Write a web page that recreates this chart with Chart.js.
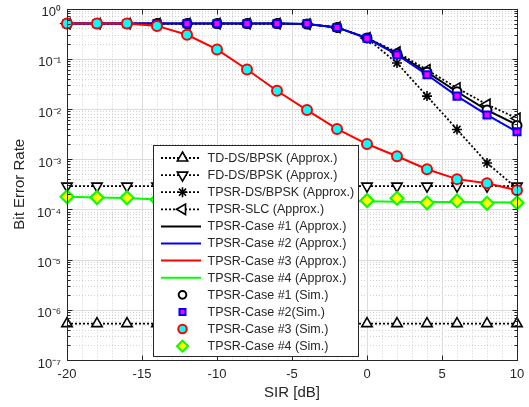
<!DOCTYPE html>
<html>
<head>
<meta charset="utf-8">
<script src="https://cdn.jsdelivr.net/npm/chart.js@4.4.1/dist/chart.umd.min.js"></script>
<style>
  html, body { margin: 0; padding: 0; background: #fff; }
  #berChart { display: block; }
</style>
</head>
<body>
<canvas id="berChart" width="529" height="407"></canvas>
<script>
// SIR values (dB)
const sirDb = [-20, -18, -16, -14, -12, -10, -8, -6, -4, -2, 0, 2, 4, 6, 8, 10];

// approximations
const tdDsApprox    = [5.3e-7, 5.3e-7, 5.3e-7, 5.3e-7, 5.3e-7, 5.3e-7, 5.3e-7, 5.3e-7, 5.3e-7, 5.3e-7, 5.3e-7, 5.3e-7, 5.3e-7, 5.3e-7, 5.3e-7, 5.3e-7];
const fdDsApprox    = [2.9e-4, 2.9e-4, 2.9e-4, 2.9e-4, 2.9e-4, 2.9e-4, 2.9e-4, 2.9e-4, 2.9e-4, 2.9e-4, 2.9e-4, 2.9e-4, 2.9e-4, 2.9e-4, 2.9e-4, 2.9e-4];
const tpsrDsApprox  = [0.5, 0.5, 0.5, 0.5, 0.5, 0.5, 0.5, 0.5, 0.49, 0.42, 0.255, 0.082, 0.018, 0.0039, 0.00084, 0.00026];
const tpsrSlcApprox = [0.5, 0.5, 0.5, 0.5, 0.5, 0.5, 0.5, 0.5, 0.49, 0.42, 0.26, 0.135, 0.06, 0.026, 0.0123, 0.0065];
const case1Approx   = [0.5, 0.5, 0.5, 0.5, 0.5, 0.5, 0.5, 0.5, 0.49, 0.42, 0.26, 0.125, 0.054, 0.022, 0.0095, 0.0048];
const case2Approx   = [0.5, 0.5, 0.5, 0.5, 0.5, 0.5, 0.5, 0.5, 0.49, 0.42, 0.255, 0.12, 0.048, 0.018, 0.0076, 0.0035];
const case3Approx   = [0.5, 0.5, 0.5, 0.45, 0.30, 0.153, 0.061, 0.023, 0.0095, 0.0040, 0.0020, 0.00114, 0.00063, 0.0004, 0.00033, 0.00024];
const case4Approx   = [1.78e-4, 1.72e-4, 1.68e-4, 1.58e-4, 1.54e-4, 1.52e-4, 1.5e-4, 1.48e-4, 1.46e-4, 1.45e-4, 1.45e-4, 1.42e-4, 1.4e-4, 1.4e-4, 1.38e-4, 1.37e-4];

// simulations
const case1Sim = [0.5, 0.5, 0.5, 0.5, 0.5, 0.5, 0.5, 0.5, 0.49, 0.42, 0.26, 0.125, 0.054, 0.022, 0.0095, 0.0047];
const case2Sim = [0.5, 0.5, 0.5, 0.5, 0.5, 0.5, 0.5, 0.5, 0.5, 0.42, 0.255, 0.12, 0.048, 0.018, 0.0076, 0.0035];
const case3Sim = [0.5, 0.5, 0.5, 0.45, 0.30, 0.153, 0.061, 0.023, 0.0095, 0.0040, 0.0020, 0.00114, 0.00063, 0.0004, 0.00033, 0.00024];
const case4Sim = [1.78e-4, 1.72e-4, 1.7e-4, 1.55e-4, 1.52e-4, 1.5e-4, 1.48e-4, 1.46e-4, 1.45e-4, 1.45e-4, 1.5e-4, 1.66e-4, 1.35e-4, 1.47e-4, 1.32e-4, 1.35e-4];

// axis ticks
const xMajorTicks = [-20, -15, -10, -5, 0, 5, 10];
const yDecades = [-7, -6, -5, -4, -3, -2, -1, 0];

const FONT = "'Liberation Sans', Arial, sans-serif";
const TEXT = '#262626';
const sup = { '-': '\u207B', '0': '\u2070', '1': '\u00B9', '2': '\u00B2', '3': '\u00B3', '4': '\u2074', '5': '\u2075', '6': '\u2076', '7': '\u2077', '8': '\u2078', '9': '\u2079' };

function pts(arr) {
  return sirDb.map((x, i) => ({ x: x, y: arr[i] }));
}

function isDecade(v) {
  const e = Math.log10(v);
  return Math.abs(e - Math.round(e)) < 1e-6;
}

const yTickValues = [];
yDecades.forEach(d => {
  for (let m = 1; m <= 9; m++) {
    if (d === 0 && m > 1) break;
    yTickValues.push(m * Math.pow(10, d));
  }
});

function dotted(label, data, style, rotation) {
  return {
    label: label, data: pts(data), kind: 'dotted',
    borderColor: '#000', borderWidth: 1.8, borderDash: [2, 2],
    pointStyle: style, pointRotation: rotation || 0, pointRadius: style === 'star' ? 5 : 6,
    pointBorderColor: '#000', pointBackgroundColor: '#fff', pointBorderWidth: 1.6,
    showLine: true, clip: false
  };
}
function solid(label, data, color) {
  return {
    label: label, data: pts(data), kind: 'solid',
    borderColor: color, borderWidth: 2, pointRadius: 0, showLine: true, clip: false
  };
}
function sim(label, data, style, edge, fill, radius) {
  return {
    label: label, data: pts(data), kind: 'sim',
    showLine: false, pointStyle: style, pointRadius: radius,
    pointBorderColor: edge, pointBackgroundColor: fill, pointBorderWidth: 2, clip: false
  };
}

const datasets = [
  dotted('TD-DS/BPSK (Approx.)', tdDsApprox, 'triangle', 0),
  dotted('FD-DS/BPSK (Approx.)', fdDsApprox, 'triangle', 180),
  dotted('TPSR-DS/BPSK (Approx.)', tpsrDsApprox, 'star', 0),
  dotted('TPSR-SLC (Approx.)', tpsrSlcApprox, 'triangle', -90),
  solid('TPSR-Case #1 (Approx.)', case1Approx, '#000000'),
  solid('TPSR-Case #2 (Approx.)', case2Approx, '#0000ff'),
  solid('TPSR-Case #3 (Approx.)', case3Approx, '#ff0000'),
  solid('TPSR-Case #4 (Approx.)', case4Approx, '#00ff00'),
  sim('TPSR-Case #1 (Sim.)', case1Sim, 'circle', '#000000', '#ffffff', 4.5),
  sim('TPSR-Case #2(Sim.)', case2Sim, 'rect', '#0000ff', '#ff00ff', 5),
  sim('TPSR-Case #3 (Sim.)', case3Sim, 'circle', '#ff0000', '#00ffff', 5),
  sim('TPSR-Case #4 (Sim.)', case4Sim, 'rectRot', '#00ff00', '#ffff00', 6.5)
];
datasets.forEach((d, i) => { d.order = datasets.length - i; });

// MATLAB-like grid behind data
const gridPlugin = {
  id: 'matlabGrid',
  beforeDatasetsDraw(chart) {
    const { ctx, chartArea: a, scales: { x, y } } = chart;
    ctx.save();
    ctx.lineWidth = 1;
    ctx.setLineDash([1, 2]);
    ctx.strokeStyle = '#d0d0d0';
    for (let v = x.min; v <= x.max; v++) {
      if (xMajorTicks.includes(v)) continue;
      const px = Math.round(x.getPixelForValue(v)) + 0.5;
      ctx.beginPath(); ctx.moveTo(px, a.top); ctx.lineTo(px, a.bottom); ctx.stroke();
    }
    yTickValues.forEach(v => {
      if (isDecade(v)) return;
      const py = Math.round(y.getPixelForValue(v)) + 0.5;
      ctx.beginPath(); ctx.moveTo(a.left, py); ctx.lineTo(a.right, py); ctx.stroke();
    });
    ctx.setLineDash([]);
    ctx.strokeStyle = '#dcdcdc';
    xMajorTicks.forEach(v => {
      const px = Math.round(x.getPixelForValue(v)) + 0.5;
      ctx.beginPath(); ctx.moveTo(px, a.top); ctx.lineTo(px, a.bottom); ctx.stroke();
    });
    yTickValues.forEach(v => {
      if (!isDecade(v)) return;
      const py = Math.round(y.getPixelForValue(v)) + 0.5;
      ctx.beginPath(); ctx.moveTo(a.left, py); ctx.lineTo(a.right, py); ctx.stroke();
    });
    ctx.restore();
  }
};

// box + inward ticks
const framePlugin = {
  id: 'matlabFrame',
  afterDatasetsDraw(chart) {
    const { ctx, chartArea: a, scales: { x, y } } = chart;
    const l = Math.round(a.left) + 0.5, r = Math.round(a.right) + 0.5;
    const t = Math.round(a.top) + 0.5, b = Math.round(a.bottom) + 0.5;
    ctx.save();
    ctx.strokeStyle = TEXT;
    ctx.lineWidth = 1;
    ctx.strokeRect(l, t, r - l, b - t);
    ctx.beginPath();
    yTickValues.forEach(v => {
      const py = Math.round(y.getPixelForValue(v)) + 0.5;
      const len = isDecade(v) ? 5 : 3;
      ctx.moveTo(l, py); ctx.lineTo(l + len, py);
      ctx.moveTo(r, py); ctx.lineTo(r - len, py);
    });
    xMajorTicks.forEach(v => {
      const px = Math.round(x.getPixelForValue(v)) + 0.5;
      ctx.moveTo(px, b); ctx.lineTo(px, b - 5);
      ctx.moveTo(px, t); ctx.lineTo(px, t + 5);
    });
    ctx.stroke();
    ctx.restore();
  }
};

// legend box inside the axes, like MATLAB
const legendPlugin = {
  id: 'boxLegend',
  afterDraw(chart) {
    const { ctx, chartArea: a } = chart;
    const bx = Math.round(a.left + 86) + 0.5, by = Math.round(a.top + 136) + 0.5;
    const bw = 205, bh = 211;
    ctx.save();
    ctx.fillStyle = '#fff';
    ctx.fillRect(bx, by, bw, bh);
    ctx.strokeStyle = TEXT;
    ctx.lineWidth = 1;
    ctx.strokeRect(bx, by, bw, bh);
    ctx.font = '12.5px ' + FONT;
    ctx.textBaseline = 'middle';
    ctx.textAlign = 'left';
    chart.data.datasets.forEach((ds, i) => {
      const cy = by + 12.5 + i * 17.1;
      const x0 = bx + 7.5, x1 = bx + 47.5, xm = bx + 29;
      if (ds.kind !== 'sim') {
        ctx.save();
        ctx.strokeStyle = ds.borderColor;
        ctx.lineWidth = ds.borderWidth;
        ctx.setLineDash(ds.borderDash || []);
        ctx.beginPath(); ctx.moveTo(x0, cy); ctx.lineTo(x1, cy); ctx.stroke();
        ctx.restore();
      }
      if (ds.kind !== 'solid') {
        ctx.save();
        ctx.setLineDash([]);
        ctx.strokeStyle = ds.pointBorderColor;
        ctx.fillStyle = ds.pointBackgroundColor;
        ctx.lineWidth = ds.pointBorderWidth;
        const r = ds.kind === 'sim' ? ds.pointRadius * 0.85 : ds.pointRadius;
        Chart.helpers.drawPoint(ctx, { pointStyle: ds.pointStyle, rotation: ds.pointRotation || 0, radius: r, borderWidth: ds.pointBorderWidth }, xm, cy);
        ctx.restore();
      }
      ctx.fillStyle = TEXT;
      ctx.fillText(ds.label, bx + 54, cy + 0.5);
    });
    ctx.restore();
  }
};

new Chart(document.getElementById('berChart'), {
  type: 'scatter',
  data: { datasets: datasets },
  options: {
    responsive: false,
    animation: false,
    events: [],
    layout: { padding: { left: 0, right: 12, top: 0, bottom: 0 } },
    plugins: { legend: { display: false }, tooltip: { enabled: false } },
    scales: {
      x: {
        type: 'linear',
        min: -20, max: 10,
        grid: { display: false, drawTicks: false },
        border: { display: false },
        afterBuildTicks: s => { s.ticks = xMajorTicks.map(v => ({ value: v })); },
        afterFit: s => { s.height = 47; s.paddingLeft = 0; s.paddingRight = 0; },
        ticks: { padding: 7, color: TEXT, font: { family: FONT, size: 13 }, maxRotation: 0, autoSkip: false },
        title: { display: true, text: 'SIR [dB]', color: TEXT, font: { family: FONT, size: 15 }, padding: { top: 0, bottom: 5 } }
      },
      y: {
        type: 'logarithmic',
        min: 1e-7, max: 1,
        grid: { display: false, drawTicks: false },
        border: { display: false },
        afterBuildTicks: s => { s.ticks = yTickValues.map(v => ({ value: v, major: isDecade(v) })); },
        afterFit: s => { s.width = 67; s.paddingTop = 6; s.paddingBottom = 0; },
        ticks: {
          padding: 6, color: TEXT, font: { family: FONT, size: 13 }, autoSkip: false, labelOffset: 4,
          callback: v => {
            if (!isDecade(v)) return '';
            const e = String(Math.round(Math.log10(v)));
            return '10' + e.split('').map(c => sup[c]).join('');
          }
        },
        title: { display: true, text: 'Bit Error Rate', color: TEXT, font: { family: FONT, size: 15 }, padding: { top: 11, bottom: 0 } }
      }
    }
  },
  plugins: [gridPlugin, framePlugin, legendPlugin]
});
</script>
</body>
</html>
